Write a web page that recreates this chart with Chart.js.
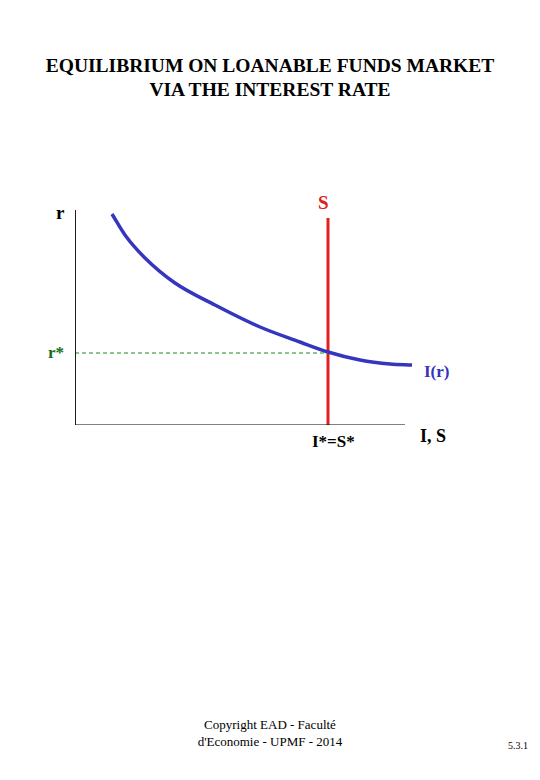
<!DOCTYPE html>
<html>
<head>
<meta charset="utf-8">
<script src="https://cdn.jsdelivr.net/npm/chart.js@4/dist/chart.umd.min.js"></script>
<style>
  body { margin: 0; width: 540px; height: 780px; background: #fff; position: relative; font-family: "Liberation Serif", "DejaVu Serif", serif; }
  .t { position: absolute; white-space: nowrap; }
  #wrap { position: absolute; left: 75px; top: 200px; width: 340px; height: 225px; }
</style>
</head>
<body>
<div class="t" style="left:0;width:540px;top:54px;text-align:center;font-size:19.5px;font-weight:bold;line-height:24px;">EQUILIBRIUM ON LOANABLE FUNDS MARKET<br>VIA THE INTEREST RATE</div>
<div class="t" style="left:56px;top:202px;font-size:19px;font-weight:bold;">r</div>
<div class="t" style="left:318px;top:192px;font-size:19px;font-weight:bold;color:#e02020;">S</div>
<div class="t" style="left:48px;top:343px;font-size:17px;font-weight:bold;color:#1a6b1a;">r*</div>
<div class="t" style="left:424px;top:362px;font-size:17px;font-weight:bold;color:#3333bb;">I(r)</div>
<div class="t" style="left:420px;top:426px;font-size:18px;font-weight:bold;">I, S</div>
<div class="t" style="left:312px;top:432px;font-size:17px;font-weight:bold;">I*=S*</div>
<div class="t" style="left:0;width:540px;top:716px;text-align:center;font-size:13px;line-height:17px;">Copyright EAD - Faculté<br>d'Economie - UPMF - 2014</div>
<div class="t" style="left:508px;top:740px;font-size:10px;">5.3.1</div>
<div id="wrap"><canvas id="c"></canvas></div>
<script>
// coordinates in abstract quantity (x) / rate (y) units
const curveX = [37, 50, 70, 100, 140, 185, 225, 253, 285, 315, 337];
const curveY = [211, 190, 167, 142, 120, 98, 83, 73, 65, 61, 60];
const eqX = 253;
const eqY = 72;
const supplyTop = 207;
const yAxisTop = 215;
const xAxisEnd = 330;

const pts = (xs, ys) => xs.map((x, i) => ({ x, y: ys[i] }));

new Chart(document.getElementById('c'), {
  type: 'line',
  data: {
    datasets: [
      { data: pts([0, 0, xAxisEnd], [yAxisTop, 0, 0]), borderColor: '#000', borderWidth: 1, pointRadius: 0, clip: false },
      { data: pts([0, eqX], [eqY, eqY]), borderColor: '#1a8a1a', borderWidth: 1, borderDash: [4, 3], pointRadius: 0, clip: false },
      { data: pts(curveX, curveY), borderColor: '#3535c0', borderWidth: 3.5, pointRadius: 0, cubicInterpolationMode: 'monotone', clip: false },
      { data: pts([eqX, eqX], [0, supplyTop]), borderColor: '#e02020', borderWidth: 3, pointRadius: 0, clip: false },
    ],
  },
  options: {
    responsive: true,
    maintainAspectRatio: false,
    animation: false,
    layout: { padding: 0 },
    plugins: { legend: { display: false }, tooltip: { enabled: false } },
    scales: {
      x: { type: 'linear', min: 0, max: 340, display: false },
      y: { type: 'linear', min: 0, max: 225, display: false },
    },
  },
});
</script>
</body>
</html>
